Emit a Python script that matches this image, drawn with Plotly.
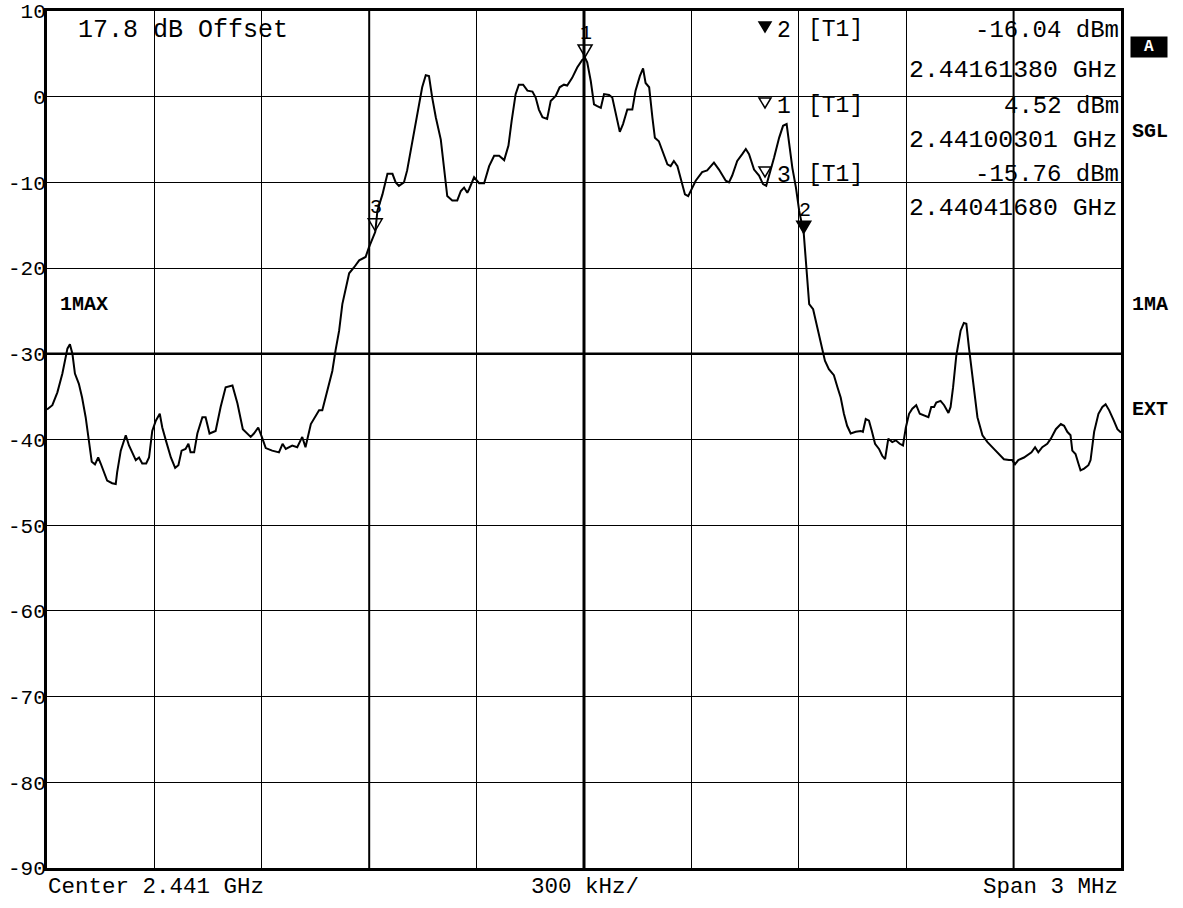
import plotly.graph_objects as go

# ---- data (offset from 2.441 GHz centre in kHz, level in dBm) ----
freq_khz = [
    -1500, -1485, -1471, -1457, -1443, -1436, -1429, -1422, -1411, -1402, -1392, -1383, -1375, -1366,
    -1357, -1350, -1341, -1332, -1318, -1308, -1304, -1294, -1280, -1271, -1262, -1252, -1243, -1234,
    -1223, -1215, -1206, -1196, -1185, -1178, -1168, -1154, -1142, -1133, -1124, -1113, -1105, -1099,
    -1089, -1080, -1066, -1057, -1046, -1029, -1015, -1001, -982, -968, -953, -931, -922, -910, -900,
    -889, -871, -852, -842, -833, -815, -801, -787, -778, -763, -749, -740, -731, -722, -712, -703,
    -694, -684, -675, -666, -656, -642, -628, -610, -601, -583, -577, -563, -549, -535, -526, -517,
    -503, -494, -484, -475, -463, -452, -442, -433, -424, -414, -400, -391, -382, -368, -354, -344,
    -335, -326, -321, -307, -293, -279, -265, -251, -237, -223, -211, -202, -191, -182, -170, -158,
    -144, -135, -126, -116, -103, -93, -79, -68, -56, -47, -33, -19, -5, 3, 9, 19, 28, 37, 47, 56,
    70, 79, 89, 100, 109, 121, 135, 144, 156, 165, 172, 182, 191, 198, 209, 219, 233, 242, 251, 261,
    270, 282, 291, 303, 312, 330, 344, 363, 377, 396, 405, 414, 428, 442, 452, 461, 475, 489, 500,
    509, 519, 531, 545, 556, 566, 573, 582, 592, 601, 614, 619, 629, 640, 652, 664, 673, 684, 698,
    708, 717, 726, 735, 745, 759, 773, 779, 787, 796, 804, 813, 824, 833, 841, 850, 861, 871, 882,
    891, 899, 908, 917, 928, 938, 950, 962, 970, 978, 984, 996, 1006, 1018, 1024, 1031, 1040, 1052,
    1061, 1068, 1075, 1087, 1099, 1113, 1127, 1145, 1159, 1173, 1187, 1196, 1204, 1213, 1229, 1243,
    1250, 1260, 1269, 1280, 1294, 1304, 1318, 1332, 1341, 1350, 1359, 1364, 1373, 1381, 1387, 1397,
    1409, 1415, 1425, 1437, 1448, 1457, 1467, 1480, 1490, 1500,
]
level_dbm = [
    -36.5, -36.0, -34.5, -32.3, -29.4, -28.9, -30.0, -32.3, -33.5, -35.1, -37.4, -40.1, -42.6, -42.9,
    -42.1, -42.8, -43.8, -44.8, -45.1, -45.2, -43.8, -41.3, -39.5, -40.7, -41.5, -42.4, -42.1, -42.8,
    -42.8, -42.1, -39.0, -37.8, -37.0, -38.6, -40.1, -42.1, -43.3, -43.0, -41.3, -41.1, -40.5, -41.5,
    -41.5, -39.3, -37.4, -37.4, -39.3, -39.0, -36.2, -33.9, -33.7, -35.8, -38.8, -39.7, -39.3, -38.6, -39.7,
    -41.0, -41.3, -41.5, -40.5, -41.1, -40.7, -40.9, -39.7, -40.9, -38.2, -37.2, -36.6, -36.6, -35.1, -33.5, -32.0,
    -29.6, -27.3, -24.2, -22.6, -20.6, -19.9, -19.1, -18.7, -17.6, -15.76, -13.3, -11.4, -9.0, -9.0, -10.0, -10.4,
    -10.0, -8.6, -6.3, -4.4, -1.7, 1.1, 2.5, 2.4, -0.1, -2.4, -5.0, -8.3, -11.6, -12.1, -12.1, -11.0,
    -10.6, -11.2, -10.8, -9.4, -10.1, -10.1, -8.1, -6.9, -6.9, -7.4, -5.7, -2.8, 0.3, 1.4, 1.4, 0.7,
    0.6, -0.1, -1.5, -2.4, -2.6, -0.5, 0.1, 1.1, 1.4, 1.3, 2.2, 3.4, 4.3, 4.52, 4.0, 1.8, -0.9, -1.1, -1.3, 0.3,
    0.2, -0.1, -2.0, -4.1, -3.2, -1.5, -1.5, 0.7, 2.4, 3.3, 1.6, 1.1, -2.4, -4.8, -5.2, -6.3, -7.9, -8.1, -7.5, -8.1,
    -9.4, -11.4, -11.6, -10.6, -9.8, -8.8, -8.6, -7.7, -8.5, -9.8, -10.0, -9.2, -7.5, -6.7, -6.1, -6.7, -8.5, -9.2, -10.2,
    -10.4, -9.0, -7.1, -4.8, -3.4, -3.2, -5.5, -8.3, -10.6, -13.3, -16.04, -19.1, -24.2, -24.8, -26.9, -28.9, -30.8, -31.8, -32.5,
    -33.9, -35.1, -37.0, -38.4, -39.3, -39.1, -39.0, -39.1, -37.6, -37.8, -39.0, -40.5, -41.1, -41.9, -42.3, -39.9, -40.3, -40.1, -40.5,
    -40.7, -38.6, -37.0, -36.4, -36.0, -37.0, -37.2, -37.4, -36.2, -36.2, -35.7, -35.5, -36.0, -36.9, -36.2, -33.9, -30.2, -27.3,
    -26.4, -26.5, -29.2, -33.5, -37.4, -39.5, -40.3, -41.1, -41.7, -42.3, -42.4, -42.4, -42.9, -42.4, -42.1, -41.7,
    -41.5, -40.9, -41.5, -40.9, -40.5, -39.9, -38.8, -38.2, -38.4, -39.1, -39.5, -41.3, -41.7, -42.8, -43.6, -43.4,
    -43.0, -42.4, -39.1, -37.0, -36.2, -35.9, -36.6, -37.8, -38.8, -39.2,
]

# markers (number, offset kHz, level dBm, frequency GHz text, filled?)
marker_ids = ["1", "2", "3"]
marker_freq_khz = [3.01, 613.80, -583.20]
marker_level = [4.52, -16.04, -15.76]
marker_freq_text = ["2.44100301 GHz", "2.44161380 GHz", "2.44041680 GHz"]
marker_filled = [False, True, False]
table_order = [1, 0, 2]  # readout lists marker 2, then 1, then 3

y_tick_vals = [10, 0, -10, -20, -30, -40, -50, -60, -70, -80, -90]
y_tick_text = ["10", "0", "-10", "-20", "-30", "-40", "-50", "-60", "-70", "-80", "-90"]
x_grid_vals = [-1500, -1200, -900, -600, -300, 0, 300, 600, 900, 1200, 1500]

MONO = "Liberation Mono, Courier New, monospace"

W, H = 1183, 908
# plot area in page pixels: x 47..1121, y 11..868
L, R, T, B = 47, 1121, 11, 868
def px(xp):
    return (xp - L) / (R - L)
def py(yp):
    return (B - yp) / (B - T)

fig = go.Figure()
fig.add_trace(go.Scatter(x=freq_khz, y=level_dbm, mode="lines",
                         line=dict(color="black", width=2), hoverinfo="skip"))

TRI = "M -7,13 L 7,13 L 0,1 Z"       # downward triangle, tip just above anchor
TRI_S = "M -6,5 L 6,5 L 0,-5 Z"      # small centred downward triangle

ann = []
shapes = []
# markers on the trace
for i, m in enumerate(marker_ids):
    shapes.append(dict(type="path", xref="x", yref="y", xsizemode="pixel", ysizemode="pixel",
                       xanchor=marker_freq_khz[i], yanchor=marker_level[i], path=TRI,
                       fillcolor="black" if marker_filled[i] else "rgba(0,0,0,0)",
                       line=dict(color="black", width=1.5), layer="above"))
    ann.append(dict(x=marker_freq_khz[i], y=marker_level[i], xref="x", yref="y",
                    text=m, showarrow=True, ax=1, ay=-24,
                    arrowcolor="rgba(0,0,0,0)", arrowwidth=0.1,
                    font=dict(family=MONO, size=20, color="black")))

# marker readout table
row_y = [(30, 70), (106, 140), (175, 208)]
for r, idx in enumerate(table_order):
    y1, y2 = row_y[r]
    shapes.append(dict(type="path", xref="paper", yref="paper", xsizemode="pixel", ysizemode="pixel",
                       xanchor=px(765), yanchor=py(y1 - 3), path=TRI_S,
                       fillcolor="black" if marker_filled[idx] else "rgba(0,0,0,0)",
                       line=dict(color="black", width=1.5), layer="above"))
    ann.append(dict(x=px(784), y=py(y1 + 1), xref="paper", yref="paper", showarrow=False,
                    text=marker_ids[idx], xanchor="center", yanchor="middle",
                    font=dict(family=MONO, size=23, color="black")))
    ann.append(dict(x=px(806), y=py(y1), xref="paper", yref="paper", showarrow=False,
                    text="[T1]", xanchor="left", yanchor="middle",
                    font=dict(family=MONO, size=23, color="black")))
    ann.append(dict(x=px(1121), y=py(y1), xref="paper", yref="paper", showarrow=False,
                    text=f"{marker_level[idx]:.2f} dBm", xanchor="right", yanchor="middle",
                    font=dict(family=MONO, size=24, color="black")))
    ann.append(dict(x=px(1119), y=py(y2), xref="paper", yref="paper", showarrow=False,
                    text=marker_freq_text[idx], xanchor="right", yanchor="middle",
                    font=dict(family=MONO, size=24.8, color="black")))

# other texts
ann += [
    dict(x=px(76), y=py(30), xref="paper", yref="paper", showarrow=False, text="17.8 dB Offset",
         xanchor="left", yanchor="middle", font=dict(family=MONO, size=25, color="black")),
    dict(x=px(58), y=py(304), xref="paper", yref="paper", showarrow=False, text="<b>1MAX</b>",
         xanchor="left", yanchor="middle", font=dict(family=MONO, size=20, color="black")),
    dict(x=px(1130), y=py(304), xref="paper", yref="paper", showarrow=False, text="<b>1MA</b>",
         xanchor="left", yanchor="middle", font=dict(family=MONO, size=20, color="black")),
    dict(x=px(1130), y=py(132), xref="paper", yref="paper", showarrow=False, text="<b>SGL</b>",
         xanchor="left", yanchor="middle", font=dict(family=MONO, size=20, color="black")),
    dict(x=px(1130), y=py(409), xref="paper", yref="paper", showarrow=False, text="<b>EXT</b>",
         xanchor="left", yanchor="middle", font=dict(family=MONO, size=20, color="black")),
    dict(x=px(1149), y=py(47), xref="paper", yref="paper", showarrow=False, text="<b>A</b>",
         xanchor="center", yanchor="middle", bgcolor="black", width=34, height=18,
         font=dict(family=MONO, size=16, color="white")),
    dict(x=px(46), y=py(887), xref="paper", yref="paper", showarrow=False, text="Center 2.441 GHz",
         xanchor="left", yanchor="middle", font=dict(family=MONO, size=22.5, color="black")),
    dict(x=px(585), y=py(887), xref="paper", yref="paper", showarrow=False, text="300 kHz/",
         xanchor="center", yanchor="middle", font=dict(family=MONO, size=22.5, color="black")),
    dict(x=px(1120), y=py(887), xref="paper", yref="paper", showarrow=False, text="Span 3 MHz",
         xanchor="right", yanchor="middle", font=dict(family=MONO, size=22.5, color="black")),
]

shapes += [
    dict(type="line", xref="x", yref="paper", x0=0, x1=0, y0=0, y1=1, layer="below",
         line=dict(color="black", width=3)),
    dict(type="line", xref="x", yref="paper", x0=-600, x1=-600, y0=0, y1=1, layer="below",
         line=dict(color="black", width=2)),
    dict(type="line", xref="x", yref="paper", x0=1200, x1=1200, y0=0, y1=1, layer="below",
         line=dict(color="black", width=2)),
    dict(type="line", xref="paper", yref="y", x0=0, x1=1, y0=-30, y1=-30, layer="below",
         line=dict(color="black", width=2.5)),
]

fig.update_layout(
    width=W, height=H,
    margin=dict(l=L, r=W - R, t=T, b=H - B, pad=0, autoexpand=False),
    paper_bgcolor="white", plot_bgcolor="white",
    showlegend=False,
    annotations=ann, shapes=shapes,
    xaxis=dict(range=[-1500, 1500], tickmode="array", tickvals=x_grid_vals, showticklabels=False,
               showgrid=True, gridcolor="black", gridwidth=1, zeroline=False, ticks="",
               showline=True, linecolor="black", linewidth=3, mirror=True, fixedrange=True,
               automargin=False),
    yaxis=dict(range=[-90, 10], tickmode="array", tickvals=y_tick_vals, ticktext=y_tick_text,
               showgrid=True, gridcolor="black", gridwidth=1, zeroline=False, ticks="",
               showline=True, linecolor="black", linewidth=3, mirror=True, fixedrange=True,
               automargin=False, ticklabelstandoff=-6, ticklabeloverflow="allow",
               tickfont=dict(family=MONO, size=21, color="black")),
)

# remove the default 8 px page margin so the figure fills the window exactly
fig.write_html("out.html", config={"displayModeBar": False},
               post_script="document.body.style.margin='0';")
